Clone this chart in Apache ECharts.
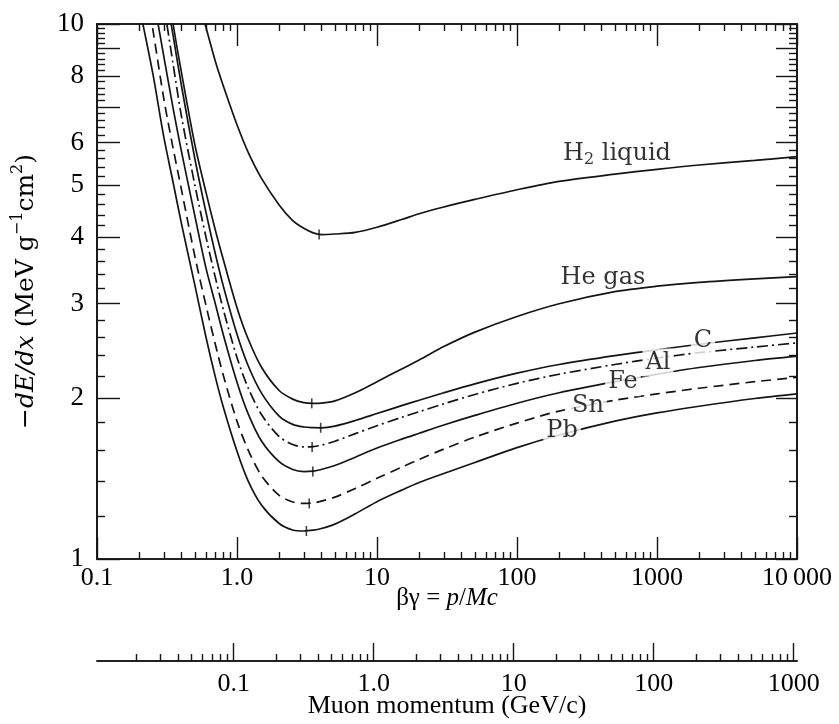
<!DOCTYPE html>
<html>
<head>
<meta charset="utf-8">
<script src="https://cdn.jsdelivr.net/npm/echarts@6/dist/echarts.min.js"></script>
<style>
  html, body { margin: 0; padding: 0; background: #fff; }
  #chart { width: 839px; height: 724px; }
</style>
</head>
<body>
<div id="chart"></div>
<script>
// beta*gamma sample points shared by every curve
const betaGamma = [0.2, 0.25, 0.3, 0.35, 0.4, 0.5, 0.6, 0.7, 0.8, 1, 1.2, 1.5, 2, 2.5, 3, 3.5, 4, 5, 7, 10,
                   15, 20, 30, 50, 100, 200, 500, 1000, 2000, 5000, 10000];

// -dE/dx (MeV g^-1 cm^2) (null = far above the frame)
const dedxH2 = [null, null, null, null, null, 11.7, 9.86, 8.52, 7.65, 6.48, 5.76, 5.14, 4.59, 4.29, 4.15, 4.07, 4.04, 4.05, 4.08, 4.17,
                4.31, 4.42, 4.55, 4.70, 4.90, 5.08, 5.24, 5.35, 5.45, 5.56, 5.65];
const dedxHe = [null, null, 13.6, 10.0, 8.15, 5.95, 4.85, 4.12, 3.62, 2.95, 2.58, 2.28, 2.065, 1.99, 1.96, 1.954, 1.956, 1.975, 2.045, 2.145,
                2.265, 2.355, 2.495, 2.655, 2.84, 3.00, 3.16, 3.235, 3.29, 3.34, 3.37];
const dedxC  = [null, null, 12.0, 9.5, 7.7, 5.6, 4.45, 3.72, 3.23, 2.63, 2.30, 2.04, 1.85, 1.785, 1.765, 1.76, 1.759, 1.772, 1.815, 1.87,
                1.935, 1.98, 2.045, 2.125, 2.225, 2.31, 2.40, 2.46, 2.52, 2.59, 2.645];
const dedxAl = [null, null, 10.9, 8.4, 6.75, 5.0, 4.0, 3.36, 2.92, 2.38, 2.09, 1.86, 1.694, 1.637, 1.62, 1.622, 1.632, 1.66, 1.715, 1.775,
                1.84, 1.885, 1.95, 2.03, 2.13, 2.215, 2.31, 2.375, 2.43, 2.49, 2.535];
const dedxFe = [null, 11.4, 8.7, 6.95, 5.8, 4.38, 3.5, 3.0, 2.62, 2.14, 1.87, 1.66, 1.52, 1.47, 1.457, 1.46, 1.47, 1.495, 1.55, 1.612,
                1.675, 1.718, 1.78, 1.855, 1.955, 2.045, 2.145, 2.215, 2.28, 2.35, 2.395];
const dedxSn = [13.8, 9.8, 7.25, 5.85, 4.92, 3.68, 2.98, 2.52, 2.2, 1.81, 1.60, 1.43, 1.315, 1.278, 1.27, 1.273, 1.283, 1.305, 1.355, 1.415,
                1.485, 1.535, 1.605, 1.69, 1.795, 1.89, 1.98, 2.035, 2.085, 2.145, 2.185];
const dedxPb = [10.8, 8.1, 6.15, 5.05, 4.25, 3.25, 2.6, 2.19, 1.92, 1.59, 1.40, 1.26, 1.165, 1.133, 1.128, 1.132, 1.14, 1.162, 1.215, 1.28,
                1.345, 1.39, 1.445, 1.515, 1.615, 1.705, 1.81, 1.875, 1.93, 1.995, 2.035];

// minimum-ionization marks on each curve (H2, He, C, Al, Fe, Sn, Pb)
const minBetaGamma = [3.86, 3.42, 3.96, 3.44, 3.48, 3.28, 3.13];
const minDedx      = [4.04, 1.954, 1.759, 1.62, 1.457, 1.27, 1.128];

// where the curve names sit (data coordinates)
const labelBetaGamma = [518, 411, 2130, 1016, 571, 321, 210];
const labelDedx      = [5.73, 3.36, 2.56, 2.33, 2.14, 1.934, 1.739];

// tick labels
const xTickLabels    = ['0.1', '1.0', '10', '100', '1000', '10\u2009000'];
const yTickLabels    = [1, 2, 3, 4, 5, 6, 8, 10];
const muonTickLabels = ['0.1', '1.0', '10', '100', '1000'];
const muonMass = 0.10566; // GeV/c^2, p = betaGamma * M c

const ink = '#141414';
const textInk = '#000';
const font = 'Liberation Serif';
const wideFont = 'DejaVu Serif';

// tick positions
const xMajor = [0.1, 1, 10, 100, 1000, 10000];
const xMinor = [];
[0.1, 1, 10, 100, 1000].forEach(d => { for (let k = 2; k <= 9; k++) xMinor.push(+(d * k).toPrecision(3)); });
const yMajor = [1, 2, 3, 4, 5, 6, 7, 8, 9, 10];
const yMinor = [];
for (let i = 1; i < 10; i++) { for (let k = 2; k <= 8; k += 2) yMinor.push(+(i + k / 10).toFixed(1)); }
const muMajor = [0.1, 1, 10, 100, 1000];
const muMinor = [];
[0.01, 0.1, 1, 10, 100].forEach(d => { for (let k = 2; k <= 9; k++) muMinor.push(+(d * k).toPrecision(3)); });

function pairs(vals) {
  const out = [];
  vals.forEach((v, i) => { if (v != null) out.push([betaGamma[i], v]); });
  return out;
}

const tickStyle = { color: ink, width: 1.4 };
const lineAxis = { show: true, lineStyle: { color: ink, width: 1.6 } };

function xAxisOf(pos, ticks, len, extra) {
  return Object.assign({
    type: 'log', logBase: 10, min: 0.1, max: 10000, gridIndex: 0, position: pos,
    splitLine: { show: false }, axisLine: lineAxis,
    axisTick: { show: true, inside: true, length: len, customValues: ticks, lineStyle: tickStyle },
    axisLabel: { show: false }
  }, extra || {});
}
function yAxisOf(pos, ticks, len, extra) {
  return Object.assign({
    type: 'log', logBase: 10, min: 1, max: 10, gridIndex: 0, position: pos,
    splitLine: { show: false }, axisLine: lineAxis,
    axisTick: { show: true, inside: true, length: len, customValues: ticks, lineStyle: tickStyle },
    axisLabel: { show: false }
  }, extra || {});
}

const curves = [
  { name: 'H2 liquid', vals: dedxH2, dash: 'solid' },
  { name: 'He gas', vals: dedxHe, dash: 'solid' },
  { name: 'C', vals: dedxC, dash: 'solid' },
  { name: 'Al', vals: dedxAl, dash: [11, 4, 2, 4] },
  { name: 'Fe', vals: dedxFe, dash: 'solid' },
  { name: 'Sn', vals: dedxSn, dash: [10, 6] },
  { name: 'Pb', vals: dedxPb, dash: 'solid' }
];
const labelTexts = ['{n|H}{sub|2}{n| liquid}', '{n|He gas}', '{n|C}', '{n|Al}', '{n|Fe}', '{n|Sn}', '{n|Pb}'];
const labelRich = {
  n: { fontFamily: wideFont, fontSize: 24, color: textInk, lineHeight: 28 },
  sub: { fontFamily: wideFont, fontSize: 16, color: textInk, verticalAlign: 'bottom', lineHeight: 16 }
};

const series = curves.map(c => ({
  type: 'line', name: c.name, data: pairs(c.vals), showSymbol: false, smooth: 0.3,
  clip: true, z: 3, silent: true,
  lineStyle: { color: ink, width: 1.7, type: c.dash }
}));

series.push({
  type: 'scatter', name: 'minima', z: 4, silent: true,
  data: minBetaGamma.map((x, i) => [x, minDedx[i]]),
  symbol: 'rect', symbolSize: [1.6, 10], itemStyle: { color: ink }
});

series.push({
  type: 'scatter', name: 'labels', z: 10, silent: true,
  data: labelBetaGamma.map((x, i) => ({
    value: [x, labelDedx[i]],
    label: {
      show: true, position: 'inside', formatter: labelTexts[i], rich: labelRich,
      backgroundColor: i < 2 ? 'transparent' : '#fff', padding: [0, 3]
    }
  })),
  symbol: 'rect', symbolSize: 1, itemStyle: { color: 'rgba(0,0,0,0)' }
});

const option = {
  animation: false,
  backgroundColor: '#fff',
  grid: { left: 97, right: 42, top: 24, bottom: 159, containLabel: false },
  xAxis: [
    xAxisOf('bottom', xMajor, 22, {
      axisLabel: {
        show: true, customValues: xMajor, margin: 6, color: textInk, fontFamily: font, fontSize: 26,
        formatter: v => xTickLabels[Math.round(Math.log10(v)) + 1]
      },
      name: '{n|\u03b2\u03b3 = }{i|p}{n|/}{i|Mc}', nameLocation: 'middle', nameGap: 27, nameMoveOverlap: false,
      nameTextStyle: {
        rich: {
          n: { fontFamily: font, fontSize: 25, color: textInk },
          i: { fontFamily: font, fontSize: 25, color: textInk, fontStyle: 'italic' }
        }
      }
    }),
    xAxisOf('bottom', xMinor, 7),
    xAxisOf('top', xMajor, 22),
    xAxisOf('top', xMinor, 7),
    xAxisOf('bottom', muMajor, 18, {
      min: 0.1 * muonMass, max: 10000 * muonMass, offset: 102,
      axisLabel: {
        show: true, customValues: muMajor, margin: 10, color: textInk, fontFamily: font, fontSize: 26,
        formatter: v => muonTickLabels[Math.round(Math.log10(v)) + 1]
      },
      name: 'Muon momentum (GeV/c)', nameLocation: 'middle', nameGap: 32, nameMoveOverlap: false,
      nameTextStyle: { fontFamily: font, fontSize: 26, color: textInk }
    }),
    xAxisOf('bottom', muMinor, 7, { min: 0.1 * muonMass, max: 10000 * muonMass, offset: 102 })
  ],
  yAxis: [
    yAxisOf('left', yMajor, 23, {
      axisLabel: {
        show: true, customValues: yTickLabels, margin: 13, color: textInk, fontFamily: font, fontSize: 27,
        formatter: v => String(Math.round(v))
      },
      name: '{i|\u2212dE/dx}{n| (MeV g}{sup|\u22121}{n|cm}{sup|2}{n|)}',
      nameLocation: 'middle', nameGap: 55, nameRotate: 90, nameMoveOverlap: false,
      nameTextStyle: {
        rich: {
          n: { fontFamily: wideFont, fontSize: 25, color: textInk, lineHeight: 32 },
          i: { fontFamily: wideFont, fontSize: 25, color: textInk, fontStyle: 'italic', lineHeight: 32 },
          sup: { fontFamily: wideFont, fontSize: 16, color: textInk, verticalAlign: 'top', lineHeight: 16 }
        }
      }
    }),
    yAxisOf('left', yMinor, 8),
    yAxisOf('right', yMajor, 21),
    yAxisOf('right', yMinor, 8)
  ],
  series: series
};

const chart = echarts.init(document.getElementById('chart'), null, { renderer: 'canvas' });
chart.setOption(option);
</script>
</body>
</html>
